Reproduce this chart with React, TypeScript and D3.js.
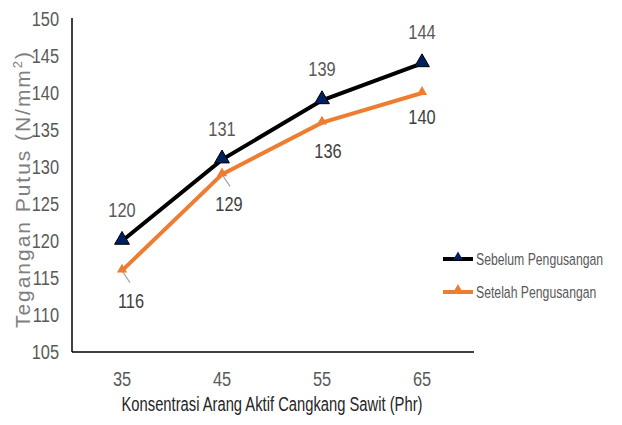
import React, { useEffect, useRef } from "react";
import * as d3 from "d3";

const categories = ["35", "45", "55", "65"];
const sebelum = [120, 131, 139, 144];
const setelah = [116, 129, 136, 140];
const yTicks = [105, 110, 115, 120, 125, 130, 135, 140, 145, 150];
const seriesNames = ["Sebelum Pengusangan", "Setelah Pengusangan"];

const font = "'Liberation Sans', Arial, sans-serif";

export default function App() {
  const ref = useRef<SVGSVGElement | null>(null);

  useEffect(() => {
    const svg = d3.select(ref.current);
    svg.selectAll("*").remove();

    const left = 72, right = 472, top = 19, bottom = 352;
    const x = d3.scalePoint().domain(categories).range([left, right]).padding(0.5);
    const y = d3.scaleLinear().domain([105, 150]).range([bottom, top]);

    // narrow text: Arial-like glyphs squeezed horizontally
    const narrowText = (g: any, tx: number, ty: number, txt: string, opts: any = {}) =>
      g.append("text")
        .attr("transform", `translate(${tx},${ty}) scale(${opts.sx ?? 0.8},1)`)
        .attr("text-anchor", opts.anchor ?? "middle")
        .attr("dy", opts.dy ?? null)
        .attr("font-family", font)
        .attr("font-size", opts.size ?? 20.5)
        .attr("fill", opts.fill ?? "#595959")
        .text(txt);

    // y tick labels
    const gy = svg.append("g");
    yTicks.forEach((t) => narrowText(gy, 59, y(t), String(t), { anchor: "end", dy: "0.36em" }));

    // x tick labels
    const gx = svg.append("g");
    categories.forEach((c) => narrowText(gx, x(c)!, 386, c));

    // axes
    svg.append("line").attr("x1", left).attr("x2", left).attr("y1", top - 1).attr("y2", bottom)
      .attr("stroke", "#000").attr("stroke-width", 1.5);
    svg.append("line").attr("x1", left).attr("x2", right + 2).attr("y1", bottom).attr("y2", bottom)
      .attr("stroke", "#000").attr("stroke-width", 1.5);

    // axis titles
    const yt = svg.append("text")
      .attr("transform", `translate(30, 190) rotate(-90)`)
      .attr("text-anchor", "middle")
      .attr("font-family", font)
      .attr("font-size", 21)
      .attr("textLength", 276)
      .attr("lengthAdjust", "spacing")
      .attr("fill", "#808080");
    yt.append("tspan").text("Tegangan Putus (N/mm");
    yt.append("tspan").attr("dy", -8).attr("font-size", 13).text("2");
    yt.append("tspan").attr("dy", 8).text(")");

    svg.append("text")
      .attr("x", 272)
      .attr("y", 411)
      .attr("text-anchor", "middle")
      .attr("font-family", font)
      .attr("font-size", 19.5)
      .attr("textLength", 301)
      .attr("lengthAdjust", "spacingAndGlyphs")
      .attr("fill", "#262626")
      .text("Konsentrasi Arang Aktif Cangkang Sawit (Phr)");

    const line = d3.line<number>()
      .x((_, i) => x(categories[i])!)
      .y((d) => y(d));

    // leader lines for orange labels near points
    const leaderIdx = [0, 1];
    svg.append("g")
      .selectAll("line")
      .data(leaderIdx)
      .enter()
      .append("line")
      .attr("x1", (i) => x(categories[i])!)
      .attr("y1", (i) => y(setelah[i]))
      .attr("x2", (i) => x(categories[i])! + 8)
      .attr("y2", (i) => y(setelah[i]) + 12)
      .attr("stroke", "#a6a6a6")
      .attr("stroke-width", 1.2);

    // orange series
    svg.append("path").datum(setelah).attr("d", line)
      .attr("fill", "none").attr("stroke", "#ED7D31").attr("stroke-width", 4);
    svg.append("g").selectAll("path").data(setelah).enter().append("path")
      .attr("d", d3.symbol().type(d3.symbolTriangle).size(45)())
      .attr("transform", (d, i) => `translate(${x(categories[i])},${y(d) - 1})`)
      .attr("fill", "#ED7D31");

    // black series
    svg.append("path").datum(sebelum).attr("d", line)
      .attr("fill", "none").attr("stroke", "#000").attr("stroke-width", 4);
    svg.append("g").selectAll("path").data(sebelum).enter().append("path")
      .attr("d", d3.symbol().type(d3.symbolTriangle).size(95)())
      .attr("transform", (d, i) => `translate(${x(categories[i])},${y(d) - 1})`)
      .attr("fill", "#002060").attr("stroke", "#000").attr("stroke-width", 1);

    // data labels
    const gl = svg.append("g");
    sebelum.forEach((v, i) => narrowText(gl, x(categories[i])!, y(v) - 24, String(v)));

    const orangeOff = [[9, 37], [7, 37], [6, 35], [0, 31]];
    setelah.forEach((v, i) =>
      narrowText(gl, x(categories[i])! + orangeOff[i][0], y(v) + orangeOff[i][1], String(v), { fill: "#404040" })
    );

    // legend
    const leg = svg.append("g").attr("transform", "translate(443, 259)");
    const colors = ["#000", "#ED7D31"];
    seriesNames.forEach((name, i) => {
      const g = leg.append("g").attr("transform", `translate(0, ${i * 33})`);
      g.append("line").attr("x1", 0).attr("x2", 30).attr("y1", 0).attr("y2", 0)
        .attr("stroke", colors[i]).attr("stroke-width", 4);
      g.append("path")
        .attr("d", d3.symbol().type(d3.symbolTriangle).size(i === 0 ? 40 : 45)())
        .attr("transform", "translate(15,-2)")
        .attr("fill", i === 0 ? "#002060" : "#ED7D31");
      narrowText(g, 33, 0, name, { anchor: "start", dy: "0.36em", size: 17, sx: 0.72, fill: "#595959" });
    });
  }, []);

  return (
    <svg ref={ref} width={622} height={425} style={{ position: "absolute", left: 0, top: 0, background: "#fff" }} />
  );
}
